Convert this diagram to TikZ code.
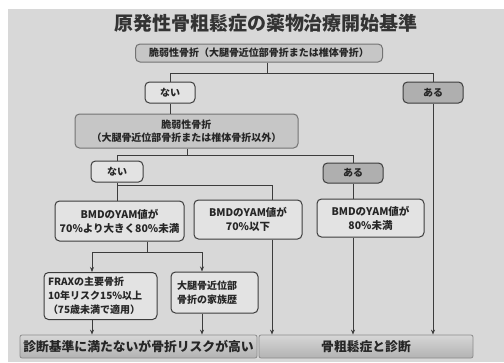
\documentclass[tikz,border=0pt]{standalone}
\usepackage{fontspec}
\setmainfont{Noto Sans CJK JP}
\usetikzlibrary{arrows.meta}
\definecolor{bg}{HTML}{D8D8D8}
\definecolor{ln}{HTML}{3C3C3C}
\definecolor{lightbox}{HTML}{E3E3E3}
\definecolor{midbox}{HTML}{C6C6C6}
\definecolor{darkbox}{HTML}{AFAFAF}
\tikzset{
  base/.style={rounded corners=4.5pt, line width=1pt, inner sep=0pt, align=center, font=\bfseries\fontsize{10}{13}\selectfont, text=black!85},
  graybox/.style={base, draw=black!55, fill=midbox},
  lightnode/.style={base, draw=ln, fill=lightbox},
  yesnode/.style={base, draw=ln, fill=darkbox},
  resbox/.style={rounded corners=2pt, draw=black!45, line width=0.8pt, top color=black!16, bottom color=black!30, inner sep=0pt, font=\bfseries\fontsize{12.8}{14}\selectfont, text=black!85},
  conn/.style={draw=ln, line width=0.9pt},
  arr/.style={conn, -{Stealth[length=5pt,width=4pt]}}
}
\begin{document}
\begin{tikzpicture}[x=1pt,y=-1pt]
\useasboundingbox (0,0) rectangle (504,362);
\fill[white] (0,0) rectangle (504,362);
\fill[bg] (8,9) rectangle (504,362);
\node[font=\bfseries\fontsize{19}{20}\selectfont, text=black!80] (title) at (266,23) {原発性骨粗鬆症の薬物治療開始基準};

\node[graybox, minimum width=247pt, minimum height=18pt] (b1) at (259,53) {脆弱性骨折（大腿骨近位部骨折または椎体骨折）};
\node[lightnode, minimum width=50pt, minimum height=21pt] (nai1) at (170,92.5) {ない};
\node[yesnode, minimum width=60pt, minimum height=21pt] (aru1) at (433,92.5) {ある};
\node[graybox, minimum width=223pt, minimum height=34pt] (b2) at (186.5,131) {脆弱性骨折\\（大腿骨近位部骨折または椎体骨折以外）};
\node[lightnode, minimum width=52pt, minimum height=21pt] (nai2) at (117,171.5) {ない};
\node[yesnode, minimum width=60pt, minimum height=20pt] (aru2) at (353,173) {ある};
\node[lightnode, minimum width=129pt, minimum height=40pt, font=\bfseries\fontsize{10.5}{14}\selectfont] (bmd1) at (119.5,221) {BMDのYAM値が\\70\%より大きく80\%未満};
\node[lightnode, minimum width=108pt, minimum height=39pt, font=\bfseries\fontsize{10.5}{14}\selectfont] (bmd2) at (248,219.5) {BMDのYAM値が\\70\%以下};
\node[lightnode, minimum width=107pt, minimum height=38pt, font=\bfseries\fontsize{10.5}{14}\selectfont] (bmd3) at (370.5,218) {BMDのYAM値が\\80\%未満};
\node[lightnode, minimum width=113pt, minimum height=47pt, align=left, text width=105pt, font=\bfseries\fontsize{10}{14}\selectfont] (frax) at (100.5,296) {FRAXの主要骨折\\10年リスク15\%以上\\（75歳未満で適用）};
\node[lightnode, minimum width=87pt, minimum height=41pt, align=left, text width=75pt, font=\bfseries\fontsize{10}{14}\selectfont] (fam) at (214.5,292.5) {大腿骨近位部\\骨折の家族歴};
\node[resbox, minimum width=237pt, minimum height=23pt] (r1) at (138.5,346.5) {診断基準に満たないが骨折リスクが高い};
\node[resbox, minimum width=214pt, minimum height=23pt] (r2) at (366,346.5) {骨粗鬆症と診断};

% connectors
\coordinate (j1) at (267,73);
\draw[conn] (j1 |- b1.south) -- (j1);
\draw[conn] (nai1.north) -- (nai1.north |- j1) -- (aru1.north |- j1) -- (aru1.north);
\draw[conn] (nai1.south) -- (nai1.south |- b2.north);
\coordinate (j2) at (187,155);
\draw[conn] (j2 |- b2.south) -- (j2);
\draw[conn] (nai2.north) -- (nai2.north |- j2) -- (aru2.north |- j2) -- (aru2.north);
\coordinate (j3) at (117,185);
\coordinate (c272) at (272,185);
\draw[conn] (nai2.south) -- (nai2.south |- bmd1.north);
\draw[conn] (j3) -- (c272) -- (c272 |- bmd2.north);
\draw[conn] (aru2.south) -- (aru2.south |- bmd3.north);
\coordinate (c147) at (147,252);
\coordinate (c92) at (92,252);
\coordinate (c202) at (202,252);
\draw[conn] (c147 |- bmd1.south) -- (c147);
\draw[arr] (c147) -- (c92) -- (c92 |- frax.north);
\draw[arr] (c147) -- (c202) -- (c202 |- fam.north);
\draw[arr] (c92 |- frax.south) -- (c92 |- r1.north);
\draw[arr] (c202 |- fam.south) -- (c202 |- r1.north);
\draw[arr] (c272 |- bmd2.south) -- (c272 |- r2.north);
\draw[arr] (aru2 |- bmd3.south) -- (aru2 |- r2.north);
\draw[arr] (aru1.south) -- (aru1.south |- r2.north);
\end{tikzpicture}
\end{document}
